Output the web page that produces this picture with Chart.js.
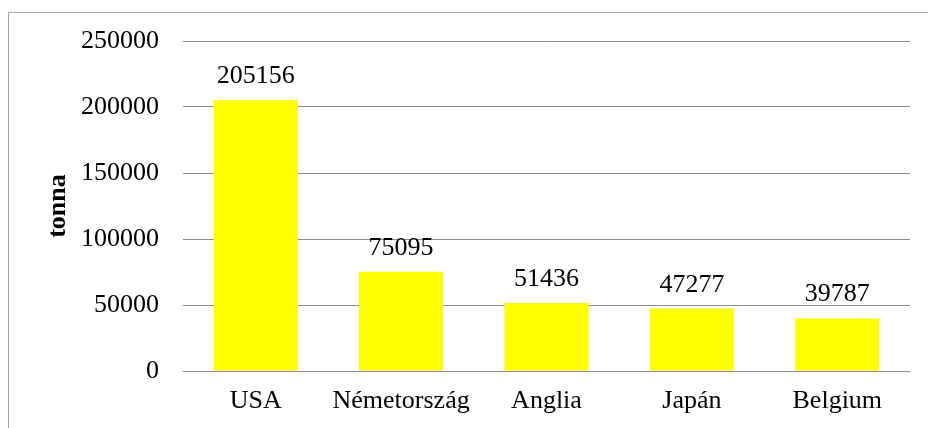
<!DOCTYPE html>
<html>
<head>
<meta charset="utf-8">
<script src="https://cdn.jsdelivr.net/npm/chart.js@4/dist/chart.umd.min.js"></script>
<style>
  html, body { margin: 0; padding: 0; background: #fff; }
  #wrap { position: relative; width: 928px; height: 428px; overflow: hidden; }
  #frame { position: absolute; left: 8px; top: 12px; width: 960px; height: 460px; border: 1px solid #a6a6a6; box-sizing: border-box; pointer-events: none; }
  canvas { position: absolute; left: 0; top: 0; }
</style>
</head>
<body>
<div id="wrap">
  <canvas id="c" width="928" height="428"></canvas>
  <div id="frame"></div>
</div>
<script>
const categories = ["USA", "Németország", "Anglia", "Japán", "Belgium"];
const values = [205156, 75095, 51436, 47277, 39787];
const yTicks = [0, 50000, 100000, 150000, 200000, 250000];
const axisTitle = "tonna";

const FONT = "'Liberation Serif', 'Times New Roman', serif";

const dataLabels = {
  id: 'dataLabels',
  afterDatasetsDraw(chart) {
    const ctx = chart.ctx;
    const meta = chart.getDatasetMeta(0);
    ctx.save();
    ctx.font = "26px " + FONT;
    ctx.fillStyle = "#000";
    ctx.textAlign = "center";
    ctx.textBaseline = "alphabetic";
    meta.data.forEach((bar, i) => {
      ctx.fillText(String(chart.data.datasets[0].data[i]), bar.x, bar.y - 17);
    });
    ctx.restore();
  }
};

new Chart(document.getElementById('c'), {
  type: 'bar',
  data: {
    labels: categories,
    datasets: [{
      data: values,
      backgroundColor: '#FFFF00',
      borderWidth: 0,
      barPercentage: 0.578,
      categoryPercentage: 1.0
    }]
  },
  options: {
    responsive: false,
    animation: false,
    devicePixelRatio: 1,
    layout: { padding: { left: 0, right: 18, top: 41, bottom: 0 } },
    plugins: { legend: { display: false }, tooltip: { enabled: false } },
    scales: {
      x: {
        grid: { display: false, drawTicks: false },
        border: { display: false },
        ticks: { color: '#000', font: { family: FONT, size: 26 }, padding: 15, maxRotation: 0, autoSkip: false },
        afterFit(scale) { scale.height = 57; }
      },
      y: {
        min: 0,
        max: 250000,
        afterBuildTicks(scale) { scale.ticks = yTicks.map(v => ({ value: v })); },
        grid: { color: '#8c8c8c', lineWidth: 1, drawTicks: false },
        border: { display: false },
        ticks: { color: '#000', font: { family: FONT, size: 26 }, padding: 24, callback: (v) => String(v) },
        title: { display: true, text: axisTitle, color: '#000', font: { family: FONT, size: 26, weight: 'bold' }, padding: { top: 43, bottom: 0 } },
        afterFit(scale) { scale.width = 183; }
      }
    }
  },
  plugins: [dataLabels]
});
</script>
</body>
</html>
